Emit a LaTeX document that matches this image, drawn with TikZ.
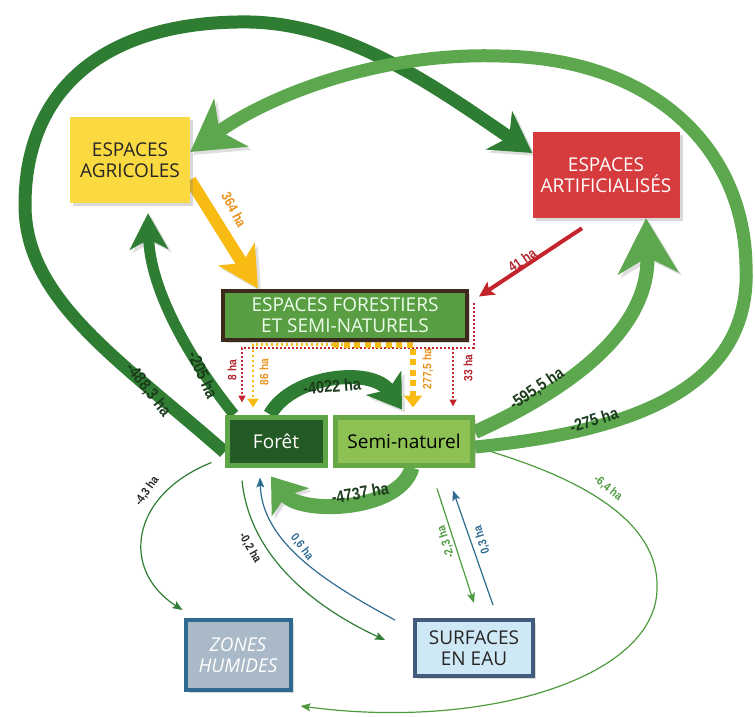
\documentclass[tikz,border=0pt]{standalone}
\usepackage{fontspec}
\setmainfont{Open Sans}
\newfontfamily\lblfont[FakeStretch=0.85]{Liberation Sans}
\usetikzlibrary{arrows.meta,shadows,backgrounds}

\definecolor{dkgreen}{HTML}{2E7D32}
\definecolor{ltgreen}{HTML}{5DA84F}
\definecolor{agriyel}{HTML}{FBD940}
\definecolor{artifred}{HTML}{D63C3E}
\definecolor{forestfill}{HTML}{5A9E44}
\definecolor{forestbrown}{HTML}{3C2A1C}
\definecolor{foretfill}{HTML}{245A25}
\definecolor{foretline}{HTML}{5EA548}
\definecolor{semifill}{HTML}{8DC153}
\definecolor{semiline}{HTML}{66A845}
\definecolor{zhfill}{HTML}{A9B9C7}
\definecolor{zhline}{HTML}{2F6A8E}
\definecolor{eaufill}{HTML}{CFE8F5}
\definecolor{ealine}{HTML}{405B7B}
\definecolor{yelarrow}{HTML}{F7BB14}
\definecolor{redarrow}{HTML}{C4252C}
\definecolor{blueline}{HTML}{2E6B90}
\definecolor{orangelbl}{HTML}{E8921B}
\definecolor{redlbl}{HTML}{B3242B}
\definecolor{darklbl}{HTML}{1D3B1D}
\definecolor{greenlbl}{HTML}{4E9A3E}

\begin{document}
\begin{tikzpicture}[x=1pt, y=-1pt, >=Stealth, font=\fontsize{19}{21}\selectfont]
\tikzstyle{box} = [align=center, inner sep=2pt, drop shadow={shadow xshift=3pt, shadow yshift=-3pt, opacity=0.3}]
\tikzstyle{bigarrow} = [-{Stealth[length=40pt, width=46pt, inset=12pt]}, line width=13pt, preaction={draw=black, opacity=0.13, transform canvas={xshift=3pt, yshift=-3pt}}]
\tikzstyle{thin} = [-{Stealth[length=10pt, width=8pt, inset=2pt]}, line width=1.2pt]
\tikzstyle{reddot} = [-{Triangle[length=7pt, width=7pt]}, redarrow, line width=2pt, dash pattern=on 2pt off 2pt]
\tikzstyle{yeldot} = [-{Triangle[length=9pt, width=11pt]}, yelarrow, line width=2.5pt, dash pattern=on 2.5pt off 2.5pt]
\tikzstyle{lbl} = [font=\lblfont\bfseries\fontsize{12}{12}\selectfont, inner sep=0pt]
\tikzstyle{lblbig} = [font=\lblfont\bfseries\fontsize{17}{17}\selectfont, inner sep=0pt, darklbl]

\useasboundingbox (0,0) rectangle (755,717);

% boxes
\node[box, fill=agriyel, text=black!85, minimum width=120pt, minimum height=86pt] (agri) at (130,160) {ESPACES\\AGRICOLES};
\node[box, fill=artifred, text=white, minimum width=147pt, minimum height=86pt] (artif) at (606,175) {ESPACES\\ARTIFICIALISÉS};
\node[box, fill=forestfill, draw=forestbrown, line width=4pt, text=white!92!green, minimum width=244pt, minimum height=49pt] (forest) at (345,315) {ESPACES FORESTIERS\\ET SEMI-NATURELS};
\node[box, fill=foretfill, draw=foretline, line width=5pt, text=white, minimum width=98pt, minimum height=48pt] (foret) at (276,441) {Forêt};
\node[box, fill=semifill, draw=semiline, line width=5pt, text=black, minimum width=137pt, minimum height=48pt] (semi) at (404,441) {Semi-naturel};
\node[box, fill=zhfill, draw=zhline, line width=4pt, text=white, minimum width=105pt, minimum height=70pt] (zh) at (238,655) {\itshape ZONES\\\itshape HUMIDES};
\node[box, fill=eaufill, draw=ealine, line width=4pt, text=black!85, minimum width=118pt, minimum height=56pt] (eau) at (474,648) {SURFACES\\EN EAU};

\begin{scope}[on background layer]
% big flows
\draw[bigarrow, dkgreen] ([yshift=-11pt]foret.west) .. controls (120,360) and (25,300) .. (25,205) .. controls (25,85) and (110,20) .. (250,22) .. controls (350,24) and (440,90) .. ([yshift=22pt]artif.west);
\draw[bigarrow, ltgreen, -{Stealth[length=50pt, width=58pt, inset=14pt]}] ([yshift=-6pt]semi.east) .. controls (650,430) and (752,380) .. (746,265) .. controls (744,150) and (655,58) .. (500,56) .. controls (380,52) and (270,95) .. ([yshift=8pt]agri.east);
\draw[bigarrow, ltgreen, line width=14pt, -{Stealth[length=55pt, width=60pt, inset=16pt]}] ([yshift=9pt]semi.east) .. controls (590,380) and (650,320) .. ([xshift=40pt]artif.south);
\draw[bigarrow, dkgreen, line width=11pt, -{Stealth[length=36pt, width=38pt, inset=10pt]}] ([xshift=-42pt]foret.north) .. controls (190,360) and (150,290) .. ([xshift=18pt, yshift=-10pt]agri.south);
\draw[bigarrow, yelarrow, line width=12pt, -{Stealth[length=40pt, width=42pt, inset=10pt]}] ([yshift=-20pt]agri.east) -- ([xshift=-87pt]forest.north);
\draw[redarrow, line width=4pt, -{Stealth[length=15pt, width=15pt, inset=3pt]}] ([xshift=-24pt, yshift=-10pt]artif.south) -- ([xshift=10pt, yshift=-8pt]forest.north east);
\draw[bigarrow, dkgreen, line width=14pt, -{Stealth[length=32pt, width=42pt, inset=8pt]}] ([xshift=-6pt]foret.north) .. controls (292,375) and (372,366) .. ([xshift=-2pt, yshift=5pt]semi.north);
\draw[bigarrow, ltgreen, line width=15pt, -{Stealth[length=32pt, width=46pt, inset=8pt]}] ([xshift=8pt]semi.south) .. controls (400,512) and (300,515) .. ([xshift=-5pt, yshift=-9pt]foret.south);
% dotted flows
\draw[reddot] ([xshift=4.5pt, yshift=12pt]forest.east) |- ([yshift=-6pt]forest.south) -| ([xshift=-34pt, yshift=12pt]foret.north);
\draw[reddot] ([xshift=108pt, yshift=-6pt]forest.south) -- ([xshift=49pt, yshift=8pt]semi.north);
\draw[yeldot] ([xshift=-2pt, yshift=-3pt]forest.south) -| ([xshift=-23pt, yshift=7pt]foret.north);
\draw[yeldot, line width=6pt, dash pattern=on 6pt off 4.5pt, -{Triangle[length=12pt, width=18pt]}] ([xshift=-12pt, yshift=-3pt]forest.south) -| ([xshift=9pt, yshift=7pt]semi.north);
% small flows
\draw[thin, dkgreen] ([xshift=-13pt, yshift=5pt]foret.south west) .. controls (130,495) and (120,570) .. ([xshift=-1pt, yshift=8pt]zh.north west);
\draw[thin, dkgreen] ([xshift=-34pt, yshift=-13pt]foret.south) .. controls (250,560) and (320,610) .. ([xshift=-28pt, yshift=8pt]eau.west);
\draw[thin, blueline] ([xshift=-18pt, yshift=28pt]eau.west) .. controls (320,580) and (262,540) .. ([xshift=-16pt, yshift=-10pt]foret.south);
\draw[thin, greenlbl] ([xshift=33pt, yshift=-21pt]semi.south) -- ([yshift=15pt]eau.north);
\draw[thin, blueline] ([xshift=19pt, yshift=13pt]eau.north) -- ([xshift=49pt, yshift=-23pt]semi.south);
\draw[thin, greenlbl] ([xshift=17pt, yshift=-11pt]semi.east) .. controls (600,485) and (660,530) .. (657,590) .. controls (654,680) and (480,730) .. ([xshift=8pt, yshift=-14pt]zh.south east);
\end{scope}

% labels
\node[lblbig, rotate=-52] (l4883) at (148,390) {-488,3 ha};
\node[lblbig, rotate=-66] (l205) at (203,375) {-205 ha};
\node[lblbig, rotate=34] (l5955) at (537,389) {-595,5 ha};
\node[lblbig, rotate=17] (l275) at (594,420) {-275 ha};
\node[lblbig, rotate=5] (l4022) at (332,386) {-4022 ha};
\node[lblbig, rotate=10] (l4737) at (360,493) {-4737 ha};
\node[lbl, font=\lblfont\bfseries\fontsize{14}{14}\selectfont, orangelbl, rotate=-62] (l364) at (234,210) {364 ha};
\node[lbl, font=\lblfont\bfseries\fontsize{14}{14}\selectfont, redlbl, rotate=35] (l41) at (522,260) {41 ha};
\node[lbl, redlbl, rotate=90] (l8) at (232,370) {8 ha};
\node[lbl, orangelbl, rotate=90] (l86) at (264,372) {86 ha};
\node[lbl, orangelbl, rotate=90] (l2775) at (428,369) {277,5 ha};
\node[lbl, redlbl, rotate=90] (l33) at (468,368) {33 ha};
\node[lbl, black!85, rotate=55] (l43) at (147,491) {-4,3 ha};
\node[lbl, black!85, rotate=-60] (l02) at (250,548) {-0,2 ha};
\node[lbl, blueline, rotate=-52] (l06) at (302,547) {0,6 ha};
\node[lbl, greenlbl, rotate=108] (l23) at (446,542) {-2,3 ha};
\node[lbl, blueline, rotate=108] (l03) at (482,540) {0,3 ha};
\node[lbl, greenlbl, rotate=-38] (l64) at (608,488) {-6,4 ha};
\end{tikzpicture}
\end{document}
